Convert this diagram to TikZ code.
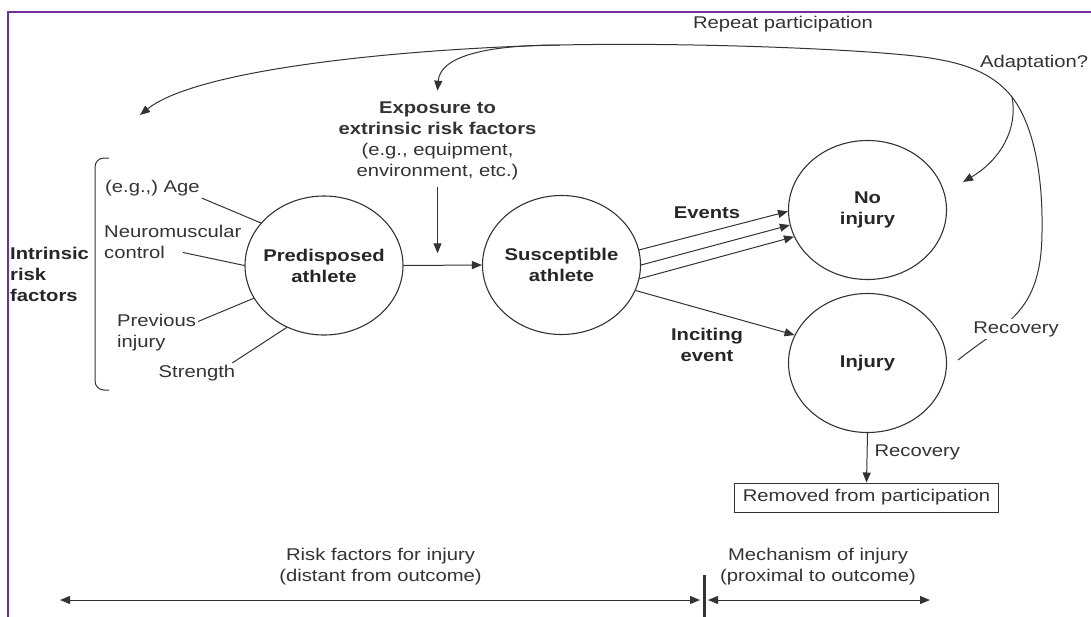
\documentclass[tikz,border=0pt]{standalone}
\usepackage{fontspec}
\setmainfont{Liberation Sans}[FakeStretch=1.19]
\usepackage{tikz}
\newcommand{\tam}{\fontsize{17}{21}\selectfont}
\usetikzlibrary{shapes, arrows.meta, positioning, calc}
\definecolor{ink}{HTML}{333333}
\definecolor{morado}{RGB}{112,48,160}
\tikzstyle{phase} = [ellipse, draw=ink, line width=1.1pt, minimum width=158pt, minimum height=139pt, inner xsep=-20pt, inner ysep=0pt, align=center, font=\tam\bfseries, text=black!85]
\tikzstyle{plain} = [text=ink, inner sep=2pt, font=\tam]
\tikzstyle{strong} = [text=black!85, inner sep=2pt, font=\tam\bfseries]
\tikzstyle{conn} = [draw=ink, line width=1pt]
\tikzstyle{arr} = [conn, -{Triangle[length=10pt,width=8pt]}]
\tikzstyle{twoway} = [conn, {Triangle[length=10pt,width=8pt]}-{Triangle[length=10pt,width=8pt]}]

\begin{document}
\begin{tikzpicture}[x=1pt, y=-1pt]
	\useasboundingbox (0,0) rectangle (1091,616);
	\draw[morado, line width=2pt] (8,630) -- (8,12) -- (1100,12);
	% main states
	\node[phase] (pred) at (324,265.5) {Predisposed\\athlete};
	\node[phase] (sus) at (561.5,265) {Susceptible\\athlete};
	\node[phase] (noinj) at (867.5,210) {No\\injury};
	\node[phase] (inj) at (867.5,363) {Injury};
	% intrinsic factors
	\node[strong, anchor=west, align=left] (intr) at (8,274) {Intrinsic\\risk\\factors};
	\draw[conn, rounded corners=9pt] (109,158) -- (95,158) -- (95,390) -- (109,390);
	\node[plain, anchor=west] (age) at (103,188) {(e.g.,) Age};
	\node[plain, anchor=west, align=left] (neuro) at (102,241.5) {Neuromuscular\\control};
	\node[plain, anchor=west, align=left] (prev) at (115,332.5) {Previous\\injury};
	\node[plain, anchor=west] (strength) at (156.5,373) {Strength};
	\draw[conn] (age.south east) -- (pred.146);
	\draw[conn] ([xshift=10pt,yshift=8pt]neuro.south) -- (pred.west);
	\draw[conn] ([yshift=11pt]prev.east) -- (pred.205);
	\draw[conn] ([xshift=-5pt]strength.north east) -- (pred.239);
	% extrinsic factors
	\node[plain, align=center] (expo) at (437.5,141) {\textbf{Exposure to}\\\textbf{extrinsic risk factors}\\(e.g., equipment,\\environment, etc.)};
	\draw[arr] (pred.east) -- (sus.west);
	\coordinate (meet) at ([yshift=12pt]$(pred.east)!0.43!(sus.west)$);
	\draw[arr, shorten <=5pt] (expo.south) -- (expo.south |- meet);
	% outcomes
	\node[strong] (events) at (707,213) {Events};
	\node[strong, align=center] (incit) at (707,344.5) {Inciting\\event};
	\foreach \a/\b in {11/181, 0/191, -10/200}
		\draw[arr] (sus.\a) -- (noinj.\b);
	\draw[arr] (sus.-19) -- (inj.159);
	\node[plain, draw=ink, line width=1pt, inner xsep=8pt, minimum height=29pt] (removed) at (866.5,497.5) {Removed from participation};
	\draw[arr] (inj.south) -- node[plain, pos=0.4, right=5pt] {Recovery} (removed.north);
	% repeat participation loop
	\coordinate (loopstart) at ([xshift=11pt,yshift=3pt]inj.east);
	\coordinate (intrtip) at (140,115);
	\coordinate (adtip) at ([xshift=16pt,yshift=28pt]noinj.east);
	\draw[arr] (loopstart) .. controls (1005,322) and (1042,315) .. (1042,230)
		.. controls (1043,165) and (1030,120) .. (1012,97) coordinate (rtop)
		.. controls (990,69) and (955,62) .. (930,58)
		.. controls (880,50) and (700,42) .. (560,45) coordinate (topsplit)
		.. controls (420,48) and (200,67) .. (intrtip);
	\draw[arr] (topsplit) .. controls (480,45) and (440,58) .. ([yshift=9pt]expo.north);
	\draw[arr] (rtop) .. controls (1018,130) and (1000,160) .. (adtip);
	\node[plain, fill=white] (recov) at (1016,329) {Recovery};
	\node[plain] (repeat) at (783,24) {Repeat participation};
	\node[plain, anchor=west] (adapt) at (978,63) {Adaptation?};
	% time line
	\coordinate (tleft) at (60,600);
	\coordinate (tmid) at (704,600);
	\coordinate (tright) at (930,600);
	\draw[twoway] (tleft) -- ([xshift=-4pt]tmid);
	\draw[twoway] ([xshift=4pt]tmid) -- (tright);
	\draw[ink, line width=3pt] ([yshift=25pt]tmid) -- ([yshift=-20pt]tmid);
	\node[plain, align=center] (riskf) at (380.5,566.5) {Risk factors for injury\\(distant from outcome)};
	\node[plain, align=center] (mech) at (818,566.5) {Mechanism of injury\\(proximal to outcome)};
\end{tikzpicture}
\end{document}
